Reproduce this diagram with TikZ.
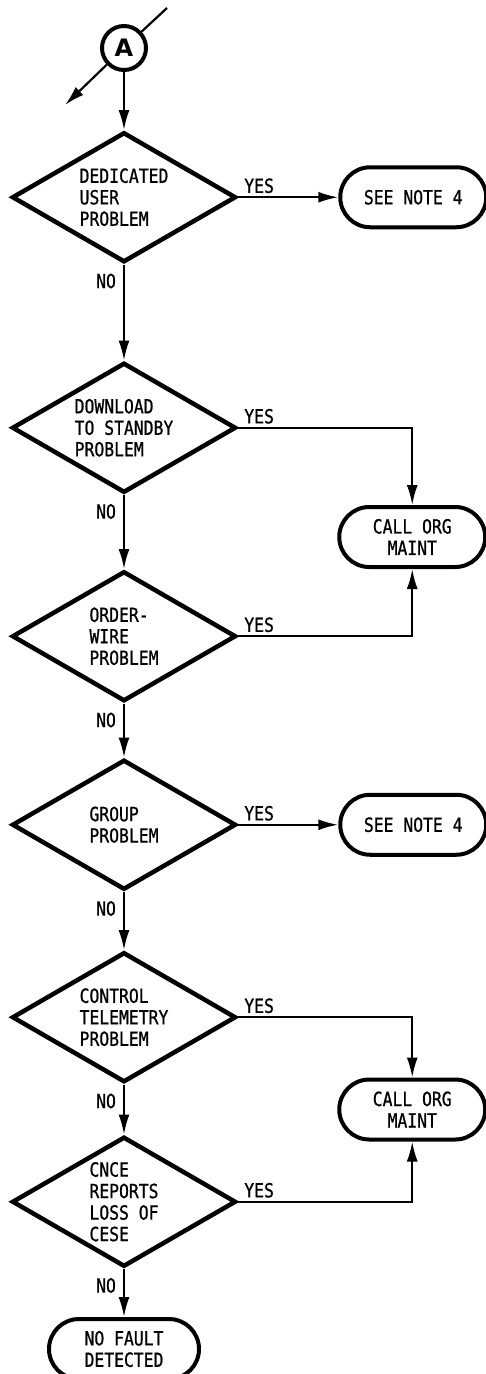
\documentclass[tikz,border=0pt]{standalone}
\usepackage{fontspec}
\newfontfamily\chartfont[FakeStretch=0.84,FakeBold=0.8]{DejaVu Sans Mono}
\setsansfont{DejaVu Sans}
\usetikzlibrary{arrows.meta,positioning,shapes.geometric,calc}

\begin{document}
\begin{tikzpicture}[
			x=1pt, y=1pt,
			>=Latex,
			node distance=60pt and 100pt,
			flow/.style={
				-{Latex[length=20pt,width=11pt]},
				line width=2.2pt
			},
			link/.style={
				line width=2.2pt
			},
			decision/.style={
				draw,
				diamond,
				aspect=1.72,
				line width=4.5pt,
				minimum width=224pt,
				minimum height=130pt,
				inner sep=0pt,
				align=left,
				font=\chartfont\fontsize{19.5}{21.5}\selectfont
			},
			terminal/.style={
				draw,
				rounded corners=30pt,
				line width=4pt,
				minimum width=146pt,
				minimum height=60pt,
				align=center,
				font=\chartfont\fontsize{19.5}{21.5}\selectfont
			},
			offpage/.style={
				draw,
				circle,
				line width=4pt,
				minimum size=44pt,
				inner sep=0pt,
				font=\sffamily\bfseries\fontsize{24}{24}\selectfont
			},
			yeslabel/.style={
				above right=3pt and 5pt,
				inner sep=0pt,
				font=\chartfont\fontsize{19.5}{21.5}\selectfont
			},
			nolabel/.style={
				below left=8pt and 7pt,
				inner sep=0pt,
				font=\chartfont\fontsize{19.5}{21.5}\selectfont
			}
			]
			
			\useasboundingbox (0,0) rectangle (486,-1374);
			
			%=====================================================================
			% Entry connector
			%=====================================================================
			
			\node[offpage] (A) at (124,-48) {A};
			
			\coordinate (enter) at (167,-8);
			\coordinate (exit) at (65,-105);
			
			\draw[link] (enter) -- (A);
			\draw[flow] (A) -- (exit);
			
			%=====================================================================
			% Decision chain
			%=====================================================================
			
			\node[decision, below=58pt of A] (dedicated)
			{DEDICATED\\USER\\PROBLEM};
			
			\node[decision, below=96pt of dedicated] (download)
			{DOWNLOAD\\TO STANDBY\\PROBLEM};
			
			\node[decision, below=74pt of download] (orderwire)
			{ORDER-\\WIRE\\PROBLEM};
			
			\node[decision, below=54pt of orderwire] (group)
			{GROUP\\PROBLEM};
			
			\node[decision, below=58pt of group] (telemetry)
			{CONTROL\\TELEMETRY\\PROBLEM};
			
			\node[decision, below=50pt of telemetry] (cnce)
			{CNCE\\REPORTS\\LOSS OF\\CESE};
			
			\node[terminal, minimum width=150pt, below=48pt of cnce] (nofault)
			{NO FAULT\\DETECTED};
			
			\draw[flow] (A) -- (dedicated);
			\draw[flow] (dedicated.south) node[nolabel]{NO} -- (download);
			\draw[flow] (download.south) node[nolabel]{NO} -- (orderwire);
			\draw[flow] (orderwire.south) node[nolabel]{NO} -- (group);
			\draw[flow] (group.south) node[nolabel]{NO} -- (telemetry);
			\draw[flow] (telemetry.south) node[nolabel]{NO} -- (cnce);
			\draw[flow] (cnce.south) node[nolabel]{NO} -- (nofault);
			
			%=====================================================================
			% Outcomes
			%=====================================================================
			
			\node[terminal, right=of dedicated] (note1)
			{SEE NOTE 4};
			
			\node[terminal] (maint1)
			at ($($(download.east)!0.5!(orderwire.east)$)+(174,-5)$)
			{CALL ORG\\MAINT};
			
			\node[terminal, right=of group] (note2)
			{SEE NOTE 4};
			
			\node[terminal] (maint2)
			at ($($(telemetry.east)!0.5!(cnce.east)$)+(174,0)$)
			{CALL ORG\\MAINT};
			
			\draw[flow] (dedicated.east) node[yeslabel]{YES} -- (note1);
			\draw[flow] (download.east) node[yeslabel]{YES} -| (maint1);
			\draw[flow] (orderwire.east) node[yeslabel]{YES} -| (maint1);
			\draw[flow] (group.east) node[yeslabel]{YES} -- (note2);
			\draw[flow] (telemetry.east) node[yeslabel]{YES} -| (maint2);
			\draw[flow] (cnce.east) node[yeslabel]{YES} -| (maint2);
			
		\end{tikzpicture}
\end{document}
